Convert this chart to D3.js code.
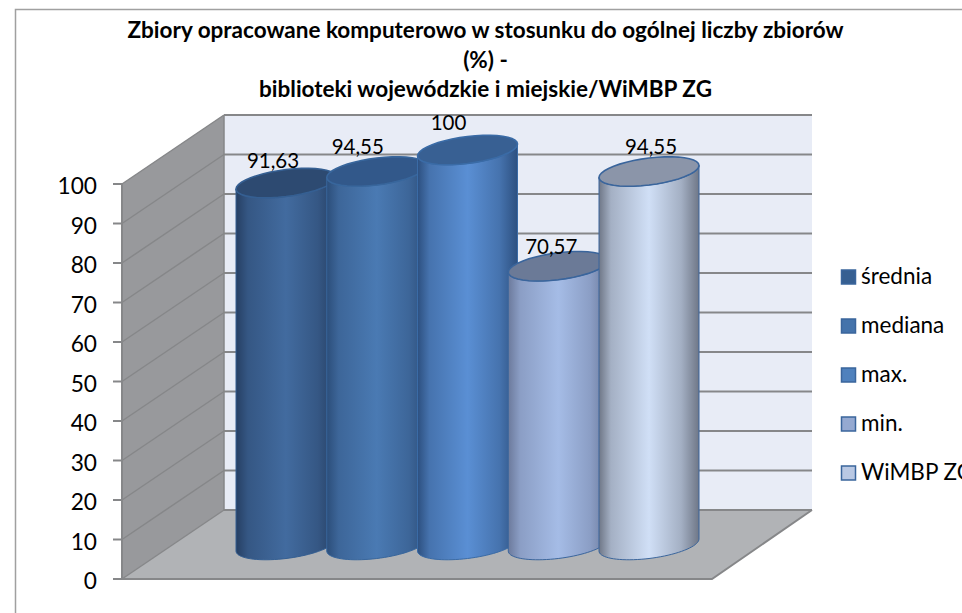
<!DOCTYPE html>
<html><head><meta charset="utf-8">
<style>html,body{margin:0;padding:0;background:#fff;overflow:hidden}svg{display:block}text{font-family:Lato,"Open Sans",sans-serif}</style>
<script src="https://cdnjs.cloudflare.com/ajax/libs/d3/7.8.5/d3.min.js"></script>
</head><body><svg id="c" width="962" height="613"></svg>
<script>
const titleLines = ["Zbiory opracowane komputerowo w stosunku do ogólnej liczby zbiorów","(%) -","biblioteki wojewódzkie i miejskie/WiMBP ZG"];
const categories = ["średnia","mediana","max.","min.","WiMBP ZG"];
const values = [91.63,94.55,100,70.57,94.55];
const valueLabels = ["91,63","94,55","100","70,57","94,55"];
const yTicks = [0,10,20,30,40,50,60,70,80,90,100];
const sideEdge = ["#263f63","#2c4e7a","#2d5080","#6c7a9c","#6f7787"];
const sideLight = ["#426b9f","#4a7ab3","#5a8fd4","#a5bce6","#d0dff6"];
const capFill = ["#2d4a71","#32588a","#386093","#6b7a97","#8b95a9"];
const legendFill = ["#365f91","#4473ab","#4f81bd","#95a9d1","#b9c8e3"];
const capStroke = ["#355f92","#38669c","#3a6ba6","#3a659c","#3a659c"];
const labelShift = [-13,-19,-19,-7,2];
const labelRise = [15,17.5,20,12,17.5];

const svg = d3.select("#c");
const defs = svg.append("defs");
const front = d3.scaleLinear().domain([0,100]).range([579,184]);
const back = d3.scaleLinear().domain([0,100]).range([510,115]);
const capY = d3.scaleLinear().domain([0,100]).range([545,150]);
const xC = d3.scalePoint().domain(categories).range([286,649]);
const line = d3.line();
const wallL=122, wallB=224, wallR=812, floorR=712, grid="#868789";

// frame
svg.append("path").attr("d",line([[15.5,613],[15.5,9.5],[962,9.5]])).attr("fill","none").attr("stroke","#a0a0a0").attr("stroke-width",1.5);

// title
svg.append("g").selectAll("text").data(titleLines).join("text")
  .attr("x",485.5).attr("y",(d,i)=>38+i*29.5).attr("text-anchor","middle")
  .attr("font-size",22.5).attr("font-weight",700).attr("fill","#000").text(d=>d);

// walls
svg.append("path").attr("d",line([[wallB,back(100)],[wallR,back(100)],[wallR,back(0)],[wallB,back(0)]])+"Z").attr("fill","#e8ecf6");
svg.append("path").attr("d",line([[wallL,front(100)],[wallB,back(100)],[wallB,back(0)],[wallL,front(0)]])+"Z").attr("fill","#98999c");
svg.append("path").attr("d",line([[wallL,front(0)],[wallB,back(0)],[wallR,back(0)],[floorR,front(0)]])+"Z").attr("fill","#b1b3b6");

// gridlines
const gridG = svg.append("g").attr("fill","none").attr("stroke",grid);
gridG.selectAll("path.b").data(yTicks).join("path").attr("class","b").attr("stroke-width",2)
  .attr("d",v=>line([[wallB,back(v)],[wallR,back(v)]]));
gridG.selectAll("path.s").data(yTicks).join("path").attr("class","s").attr("stroke-width",1.5)
  .attr("d",v=>line([[wallL,front(v)],[wallB,back(v)]]));
gridG.append("path").attr("stroke-width",2).attr("d",line([[wallL,front(100)],[wallL,front(0)],[floorR,front(0)],[wallR,back(0)]]));
gridG.append("path").attr("stroke-width",1.5).attr("d",line([[wallB,back(100)],[wallB,back(0)]]));

// ticks and labels
svg.append("g").selectAll("path").data(yTicks).join("path").attr("stroke",grid).attr("stroke-width",2)
  .attr("d",v=>line([[113,front(v)],[wallL,front(v)]]));
svg.append("g").selectAll("text").data(yTicks).join("text")
  .attr("x",97).attr("y",v=>front(v)+10).attr("text-anchor","end").attr("font-size",22.7).attr("fill","#000").text(v=>v);

// cylinders
const rx=50, ry=13.5, tilt=6;
const ellPt=(cx,cy,t)=>[cx+rx*Math.cos(t), cy+ry*Math.sin(t)-tilt*Math.cos(t)];
const arc=(cx,cy,a,b)=>d3.range(0,41).map(i=>ellPt(cx,cy,a+(b-a)*i/40));
categories.forEach((c,i)=>{
  const g=defs.append("linearGradient").attr("id","g"+i).attr("x1",0).attr("x2",1).attr("y1",0).attr("y2",0);
  [[0,sideEdge[i]],[.12,d3.interpolateRgb(sideEdge[i],sideLight[i])(.55)],[.5,sideLight[i]],[.82,d3.interpolateRgb(sideEdge[i],sideLight[i])(.55)],[1,sideEdge[i]]]
    .forEach(s=>g.append("stop").attr("offset",s[0]).attr("stop-color",s[1]));
  const cx=xC(c), top=capY(values[i]), base=capY(0);
  const body=arc(cx,top,Math.PI,0).concat(arc(cx,base,0,Math.PI));
  svg.append("path").attr("d",line(body)+"Z").attr("fill",`url(#g${i})`).attr("stroke",capStroke[i]).attr("stroke-width",1);
  svg.append("path").attr("d",line(arc(cx,top,0,2*Math.PI))+"Z").attr("fill",capFill[i]).attr("stroke",capStroke[i]).attr("stroke-width",1.6);
});

// value labels
svg.append("g").selectAll("text").data(values).join("text")
  .attr("x",(v,i)=>xC(categories[i])+labelShift[i]).attr("y",(v,i)=>capY(v)-labelRise[i]).attr("text-anchor","middle")
  .attr("font-size",20.5).attr("fill","#000").text((v,i)=>valueLabels[i]);

// legend
const ly=d3.scalePoint().domain(categories).range([277,473]);
const leg=svg.append("g");
leg.selectAll("rect").data(categories).join("rect")
  .attr("x",841.5).attr("y",c=>ly(c)-7).attr("width",14).attr("height",14)
  .attr("fill",(c,i)=>legendFill[i]).attr("stroke","#3a659c").attr("stroke-width",1.5);
leg.selectAll("text").data(categories).join("text")
  .attr("x",861).attr("y",c=>ly(c)+6.7).attr("font-size",22.5).attr("fill","#000").text(c=>c);
</script></body></html>
